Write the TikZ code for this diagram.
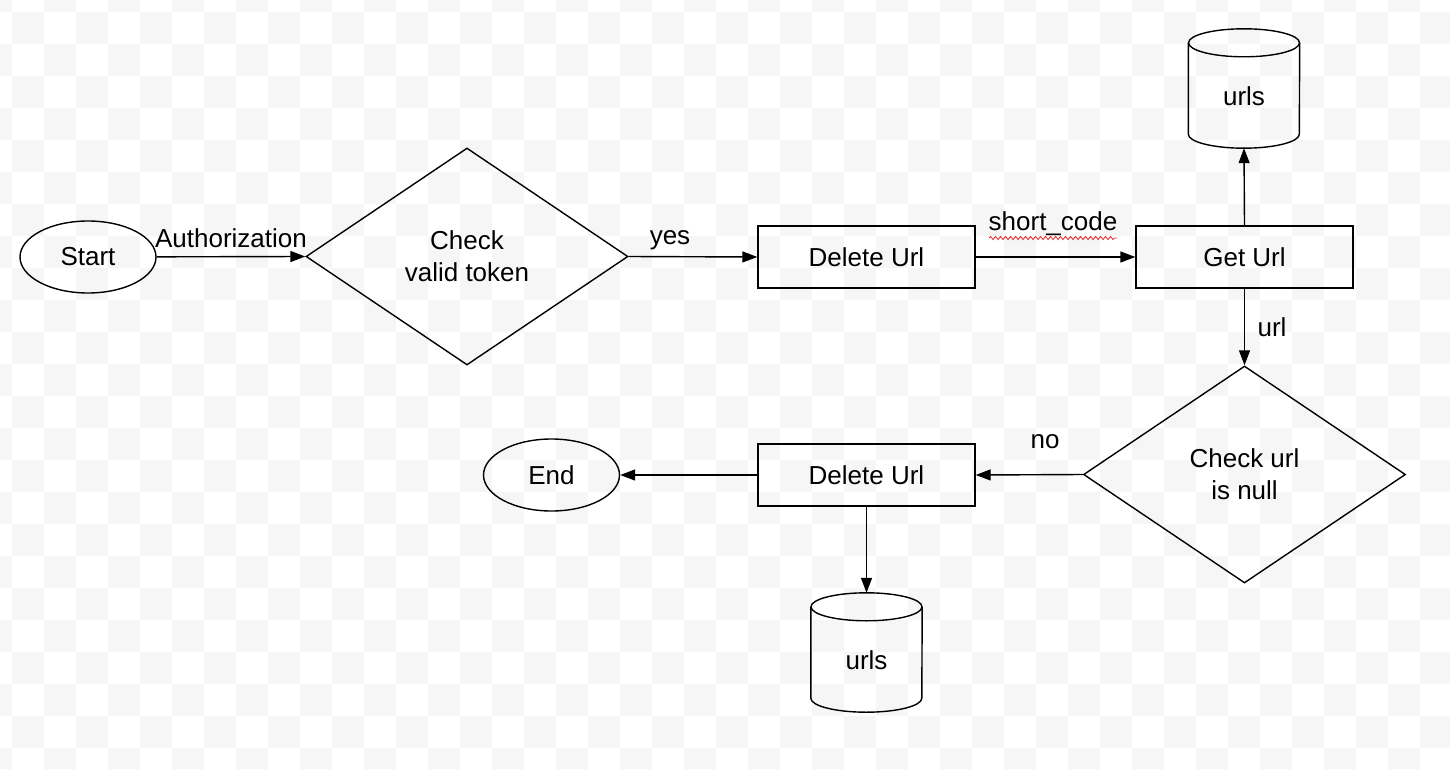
\documentclass[tikz,border=0pt]{standalone}
\usepackage{fontspec}
\setmainfont{Liberation Sans}
\usetikzlibrary{shapes.geometric,arrows.meta,decorations.pathmorphing}
\definecolor{cbgrey}{RGB}{246,246,246}
\definecolor{squig}{RGB}{230,40,40}
\begin{document}
\begin{tikzpicture}[x=1pt,y=-1pt,
  every node/.style={font=\fontsize{26}{32}\selectfont, text=black},
  conn/.style={line width=1.4pt, -{Triangle[length=15pt,width=11pt]}},
  oval/.style={ellipse, draw, line width=1.4pt, minimum width=136pt, minimum height=72pt, inner sep=0pt},
  decision/.style={diamond, draw, line width=1.4pt, minimum width=322pt, minimum height=217pt, aspect=1.48, inner sep=0pt, align=center},
  proc/.style={rectangle, draw, line width=1.4pt, minimum width=217pt, minimum height=62pt, inner sep=0pt},
  dbbox/.style={rectangle, draw=none, minimum width=111pt, minimum height=119pt, inner sep=0pt},
  lbl/.style={inner sep=1pt}
]
\useasboundingbox (0,0) rectangle (1450,768);
% checkerboard background
\fill[white] (0,0) rectangle (1450,768);
\foreach \i in {-1,...,45}{
  \foreach \j in {-1,...,24}{
    \pgfmathtruncatemacro\cbpar{mod(\i+\j+2,2)}
    \ifnum\cbpar=0
      \fill[cbgrey] (12+32*\i,12+32*\j) rectangle ++(32,32);
    \fi
  }
}
% nodes
\node[oval] (start) at (88,257) {Start};
\node[decision] (d1) at (467,256.5) {Check\\valid token};
\node[proc] (del1) at (866.5,257) {Delete Url};
\node[proc] (get) at (1244.5,257) {Get Url};
\node[dbbox] (db1) at (1244,88.5) {};
\node[decision] (d2) at (1244.5,474.5) {Check url\\is null};
\node[proc] (del2) at (866.5,475) {Delete Url};
\node[oval] (end) at (551.5,475) {End};
\node[dbbox] (db2) at (866.5,652.5) {};
% cylinders
\foreach \c in {db1,db2}{
  \draw[line width=1.4pt]
    ([yshift=-14pt]\c.north west) -- ([yshift=14pt]\c.south west)
    arc[start angle=180, end angle=360, x radius=55.5pt, y radius=14pt]
    -- ([yshift=-14pt]\c.north east);
  \draw[line width=1.4pt] ([yshift=-14pt]\c.north) ellipse[x radius=55.5pt, y radius=14pt];
}
\node at ([yshift=-8pt]db1.center) {urls};
\node at ([yshift=-8pt]db2.center) {urls};
% connectors
\draw[conn] (start) -- (d1.west);
\draw[conn] (d1.east) -- (del1.west);
\draw[conn] (del1.east) -- (get.west);
\draw[conn] (get.north) -- (db1.south);
\draw[conn] (get.south) -- (d2.north);
\draw[conn] (d2.west) -- (del2.east);
\draw[conn] (del2.west) -- (end.east);
\draw[conn] (del2.south) -- (db2.north);
% labels
\node[lbl] (la) at (231,238) {Authorization};
\node[lbl] (ly) at (670,240) {yes};
\node[lbl] (ls) at (1053,224) {short\_code};
\node[lbl] (lu) at (1272,327) {url};
\node[lbl] (ln) at (1045,442) {no};
\draw[squig, line width=0.8pt, decorate, decoration={snake, amplitude=1.6pt, segment length=5pt}] (989,238) -- (1117,238);
\end{tikzpicture}
\end{document}
